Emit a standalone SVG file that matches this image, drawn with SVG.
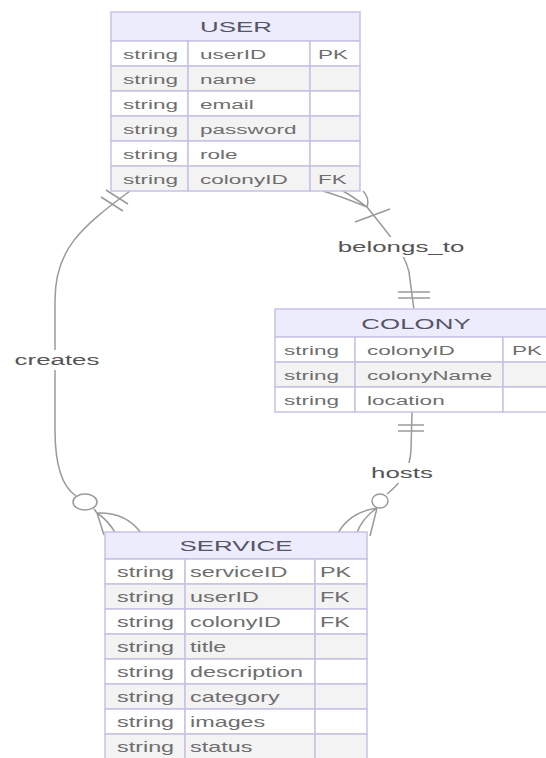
<svg xmlns="http://www.w3.org/2000/svg" width="546" height="758" viewBox="0 0 546 758">
<style>
.hd{fill:#ececfc;stroke:#c6c2e6;stroke-width:1.5}
.od{fill:#ffffff;stroke:#c6c2e6;stroke-width:1.5}
.ev{fill:#f3f3f3;stroke:#c6c2e6;stroke-width:1.5}
.t{font-family:"Liberation Sans",Arial,sans-serif;font-size:13.5px;fill:#6e6e6e}
.ts{font-family:"Liberation Sans",Arial,sans-serif;font-size:14px;fill:#6e6e6e}
.h{font-family:"Liberation Sans",Arial,sans-serif;font-size:15.5px;fill:#555566;text-anchor:middle}
.lb{font-family:"Liberation Sans",Arial,sans-serif;font-size:15.5px;fill:#555555;text-anchor:middle}
.ln{fill:none;stroke:#9a9a9a;stroke-width:1.5}
</style>
<rect width="546" height="758" fill="#ffffff"/>
<g id="connectors">
  <!-- creates -->
  <path class="ln" d="M130 191 C80 228 55 250 55 300 L55 430 C55 470 64 488 76 496"/>
  <path class="ln" d="M106 190 L128 204 M101 197 L123 211"/>
  <ellipse class="ln" cx="85" cy="502" rx="12" ry="8"/>
  <path class="ln" d="M94 509 L97 513 M97 513 L104 535 M97 513 Q108 520 116 534 M97 513 Q126 512 141 533"/>
  <!-- belongs_to -->
  <path class="ln" d="M367 207 C385 230 404 250 409 272 L414 310"/>
  <path class="ln" d="M367 207 Q340 196 323 191 M367 207 Q352 196 343 191 M367 207 Q370 198 363 191"/>
  <path class="ln" d="M355 222 L390 209"/>
  <path class="ln" d="M398 292 L430 292 M398 298 L430 298"/>
  <!-- hosts -->
  <path class="ln" d="M412 412 L411 450 C410 470 400 484 387 494"/>
  <path class="ln" d="M398 425 L424 425 M398 431 L424 431"/>
  <ellipse class="ln" cx="380" cy="501" rx="8" ry="7"/>
  <path class="ln" d="M377 508 Q350 512 338 533 M377 508 Q362 518 356 535 M377 508 L370 536"/>
  <!-- labels -->
  <rect x="12" y="350" width="90" height="20" fill="#ffffff"/>
  <text class="lb" transform="translate(57,365) scale(1.67,1)">creates</text>
  <rect x="335" y="237" width="133" height="20" fill="#ffffff"/>
  <text class="lb" transform="translate(401,252) scale(1.67,1)">belongs_to</text>
  <rect x="371" y="463" width="63" height="20" fill="#ffffff"/>
  <text class="lb" transform="translate(402,478) scale(1.67,1)">hosts</text>
</g>
<g id="USER">
  <rect class="hd" x="111" y="12" width="249" height="29"/>
  <text class="h" transform="translate(236,32) scale(1.67,1)">USER</text>
  <rect class="od" x="111" y="41" width="77" height="25"/><rect class="od" x="188" y="41" width="122" height="25"/><rect class="od" x="310" y="41" width="50" height="25"/>
  <rect class="ev" x="111" y="66" width="77" height="25"/><rect class="ev" x="188" y="66" width="122" height="25"/><rect class="ev" x="310" y="66" width="50" height="25"/>
  <rect class="od" x="111" y="91" width="77" height="25"/><rect class="od" x="188" y="91" width="122" height="25"/><rect class="od" x="310" y="91" width="50" height="25"/>
  <rect class="ev" x="111" y="116" width="77" height="25"/><rect class="ev" x="188" y="116" width="122" height="25"/><rect class="ev" x="310" y="116" width="50" height="25"/>
  <rect class="od" x="111" y="141" width="77" height="25"/><rect class="od" x="188" y="141" width="122" height="25"/><rect class="od" x="310" y="141" width="50" height="25"/>
  <rect class="ev" x="111" y="166" width="77" height="25"/><rect class="ev" x="188" y="166" width="122" height="25"/><rect class="ev" x="310" y="166" width="50" height="25"/>
  <text class="t" transform="translate(123,58.5) scale(1.67,1)">string</text>
  <text class="t" transform="translate(200,58.5) scale(1.67,1)">userID</text>
  <text class="t" transform="translate(318,58.5) scale(1.67,1)">PK</text>
  <text class="t" transform="translate(123,83.5) scale(1.67,1)">string</text>
  <text class="t" transform="translate(200,83.5) scale(1.67,1)">name</text>
  <text class="t" transform="translate(123,108.5) scale(1.67,1)">string</text>
  <text class="t" transform="translate(200,108.5) scale(1.67,1)">email</text>
  <text class="t" transform="translate(123,133.5) scale(1.67,1)">string</text>
  <text class="t" transform="translate(200,133.5) scale(1.67,1)">password</text>
  <text class="t" transform="translate(123,158.5) scale(1.67,1)">string</text>
  <text class="t" transform="translate(200,158.5) scale(1.67,1)">role</text>
  <text class="t" transform="translate(123,183.5) scale(1.67,1)">string</text>
  <text class="t" transform="translate(200,183.5) scale(1.67,1)">colonyID</text>
  <text class="t" transform="translate(318,183.5) scale(1.67,1)">FK</text>
</g>
<g id="COLONY">
  <rect class="hd" x="275" y="309" width="278" height="28"/>
  <text class="h" transform="translate(416,328.5) scale(1.67,1)">COLONY</text>
  <rect class="od" x="275" y="337" width="80" height="25"/><rect class="od" x="355" y="337" width="148" height="25"/><rect class="od" x="503" y="337" width="50" height="25"/>
  <rect class="ev" x="275" y="362" width="80" height="25"/><rect class="ev" x="355" y="362" width="148" height="25"/><rect class="ev" x="503" y="362" width="50" height="25"/>
  <rect class="od" x="275" y="387" width="80" height="25"/><rect class="od" x="355" y="387" width="148" height="25"/><rect class="od" x="503" y="387" width="50" height="25"/>
  <text class="t" transform="translate(284,354.5) scale(1.67,1)">string</text>
  <text class="t" transform="translate(367,354.5) scale(1.67,1)">colonyID</text>
  <text class="t" transform="translate(512,354.5) scale(1.67,1)">PK</text>
  <text class="t" transform="translate(284,379.5) scale(1.67,1)">string</text>
  <text class="t" transform="translate(367,379.5) scale(1.67,1)">colonyName</text>
  <text class="t" transform="translate(284,404.5) scale(1.67,1)">string</text>
  <text class="t" transform="translate(367,404.5) scale(1.67,1)">location</text>
</g>
<g id="SERVICE">
  <rect class="hd" x="105" y="532" width="262" height="27"/>
  <text class="h" transform="translate(236,551) scale(1.67,1)">SERVICE</text>
  <rect class="od" x="105" y="559" width="80" height="25"/><rect class="od" x="185" y="559" width="130" height="25"/><rect class="od" x="315" y="559" width="52" height="25"/>
  <rect class="ev" x="105" y="584" width="80" height="25"/><rect class="ev" x="185" y="584" width="130" height="25"/><rect class="ev" x="315" y="584" width="52" height="25"/>
  <rect class="od" x="105" y="609" width="80" height="25"/><rect class="od" x="185" y="609" width="130" height="25"/><rect class="od" x="315" y="609" width="52" height="25"/>
  <rect class="ev" x="105" y="634" width="80" height="25"/><rect class="ev" x="185" y="634" width="130" height="25"/><rect class="ev" x="315" y="634" width="52" height="25"/>
  <rect class="od" x="105" y="659" width="80" height="25"/><rect class="od" x="185" y="659" width="130" height="25"/><rect class="od" x="315" y="659" width="52" height="25"/>
  <rect class="ev" x="105" y="684" width="80" height="25"/><rect class="ev" x="185" y="684" width="130" height="25"/><rect class="ev" x="315" y="684" width="52" height="25"/>
  <rect class="od" x="105" y="709" width="80" height="25"/><rect class="od" x="185" y="709" width="130" height="25"/><rect class="od" x="315" y="709" width="52" height="25"/>
  <rect class="ev" x="105" y="734" width="80" height="25"/><rect class="ev" x="185" y="734" width="130" height="25"/><rect class="ev" x="315" y="734" width="52" height="25"/>
  <text class="ts" transform="translate(117,576.5) scale(1.67,1)">string</text>
  <text class="ts" transform="translate(190,576.5) scale(1.67,1)">serviceID</text>
  <text class="ts" transform="translate(320,576.5) scale(1.67,1)">PK</text>
  <text class="ts" transform="translate(117,601.5) scale(1.67,1)">string</text>
  <text class="ts" transform="translate(190,601.5) scale(1.67,1)">userID</text>
  <text class="ts" transform="translate(320,601.5) scale(1.67,1)">FK</text>
  <text class="ts" transform="translate(117,626.5) scale(1.67,1)">string</text>
  <text class="ts" transform="translate(190,626.5) scale(1.67,1)">colonyID</text>
  <text class="ts" transform="translate(320,626.5) scale(1.67,1)">FK</text>
  <text class="ts" transform="translate(117,651.5) scale(1.67,1)">string</text>
  <text class="ts" transform="translate(190,651.5) scale(1.67,1)">title</text>
  <text class="ts" transform="translate(117,676.5) scale(1.67,1)">string</text>
  <text class="ts" transform="translate(190,676.5) scale(1.67,1)">description</text>
  <text class="ts" transform="translate(117,701.5) scale(1.67,1)">string</text>
  <text class="ts" transform="translate(190,701.5) scale(1.67,1)">category</text>
  <text class="ts" transform="translate(117,726.5) scale(1.67,1)">string</text>
  <text class="ts" transform="translate(190,726.5) scale(1.67,1)">images</text>
  <text class="ts" transform="translate(117,751.5) scale(1.67,1)">string</text>
  <text class="ts" transform="translate(190,751.5) scale(1.67,1)">status</text>
</g>
</svg>
